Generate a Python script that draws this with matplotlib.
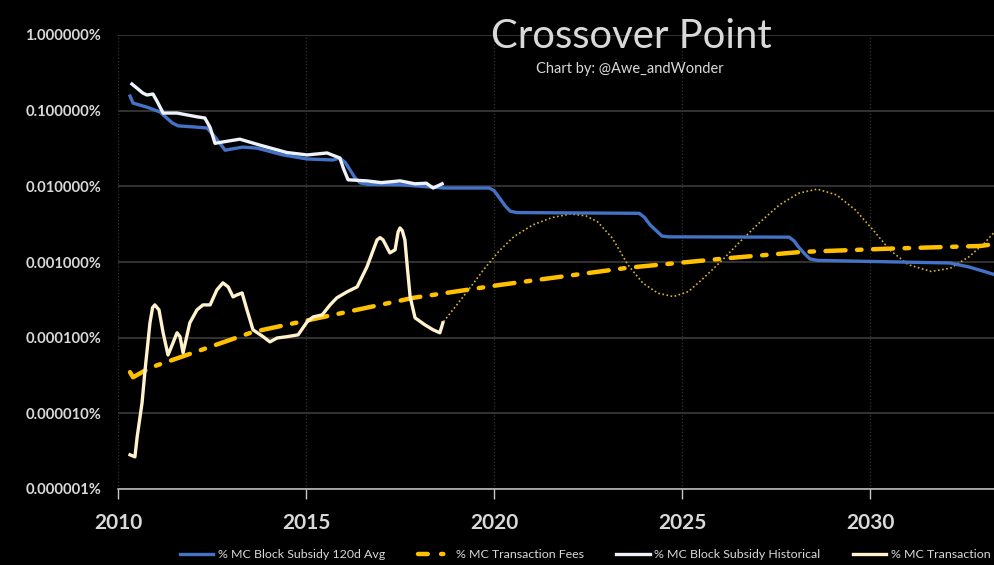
import matplotlib
matplotlib.use("Agg")
import matplotlib.pyplot as plt
from matplotlib.ticker import FixedLocator, FuncFormatter, NullLocator
from matplotlib.lines import Line2D

# ---------------- data (values in percent of market cap) ----------------
subsidy_avg_year = [2010.32, 2010.40, 2010.80, 2011.12, 2011.44, 2011.60, 2012.00, 2012.37,
                    2012.58, 2012.85, 2013.00, 2013.32, 2013.70, 2014.39, 2015.03, 2015.72,
                    2015.90, 2016.05, 2016.17, 2016.30, 2016.44, 2016.65, 2017.50, 2018.67,
                    2019.87, 2020.00, 2020.13, 2020.30, 2020.43, 2020.60, 2023.86, 2024.00,
                    2024.15, 2024.35, 2024.47, 2024.65, 2027.85, 2027.98, 2028.09, 2028.25,
                    2028.40, 2028.60, 2032.13, 2032.63, 2033.00, 2033.32]
subsidy_avg_pct = [0.156, 0.126, 0.110, 0.096, 0.069, 0.063, 0.061, 0.059,
                   0.045, 0.030, 0.031, 0.033, 0.032, 0.026, 0.023, 0.0223,
                   0.0237, 0.0205, 0.0165, 0.0130, 0.0111, 0.0106, 0.0105, 0.0095,
                   0.0095, 0.0088, 0.0072, 0.0055, 0.0047, 0.0045, 0.0044, 0.0039,
                   0.0031, 0.0025, 0.0022, 0.00215, 0.00213, 0.0019, 0.0016, 0.0013,
                   0.0011, 0.00105, 0.00097, 0.00086, 0.00076, 0.00068]

subsidy_hist_year = [2010.37, 2010.55, 2010.66, 2010.77, 2010.93, 2011.05, 2011.20, 2011.57,
                     2012.10, 2012.31, 2012.45, 2012.58, 2012.79, 2013.24, 2013.78, 2014.49,
                     2015.03, 2015.56, 2015.90, 2016.00, 2016.12, 2016.62, 2017.00, 2017.50,
                     2017.90, 2018.20, 2018.38, 2018.62]
subsidy_hist_pct = [0.225, 0.190, 0.171, 0.161, 0.166, 0.130, 0.093, 0.093,
                    0.083, 0.080, 0.060, 0.037, 0.0386, 0.042, 0.035, 0.028,
                    0.026, 0.0276, 0.0237, 0.0170, 0.0122, 0.0118, 0.0112, 0.0118,
                    0.0108, 0.0110, 0.0095, 0.0108]

fees_trend_year = [2010.32, 2010.40, 2010.85, 2013.59, 2017.85, 2020.16, 2023.56, 2026.28,
                   2028.19, 2030.50, 2032.95, 2033.32]
fees_trend_pct = [3.5e-5, 3.0e-5, 4.0e-5, 1.19e-4, 3.36e-4, 4.98e-4, 8.4e-4, 1.13e-3,
                  1.36e-3, 1.50e-3, 1.63e-3, 1.73e-3]

fees_proj_year = [2018.66, 2019.01, 2019.32, 2019.72, 2020.12, 2020.53, 2021.03, 2021.54,
                  2022.04, 2022.45, 2022.75, 2023.15, 2023.56, 2023.96, 2024.36, 2024.77,
                  2025.17, 2025.57, 2026.08, 2026.59, 2027.09, 2027.59, 2028.10, 2028.60,
                  2029.11, 2029.61, 2030.12, 2030.52, 2031.02, 2031.63, 2032.14, 2032.64,
                  2033.04, 2033.32]
fees_proj_pct = [1.63e-4, 2.71e-4, 4.28e-4, 7.87e-4, 1.37e-3, 2.17e-3, 3.09e-3, 3.86e-3,
                 4.32e-3, 4.06e-3, 3.42e-3, 2.06e-3, 9.2e-4, 5.25e-4, 3.87e-4, 3.49e-4,
                 4.06e-4, 6.1e-4, 1.07e-3, 1.96e-3, 3.42e-3, 5.68e-3, 8.1e-3, 9.2e-3,
                 7.7e-3, 4.88e-3, 2.52e-3, 1.45e-3, 9.2e-4, 7.5e-4, 8.3e-4, 1.18e-3,
                 1.77e-3, 2.52e-3]

fees_hist_year = [2010.32, 2010.45, 2010.51, 2010.64, 2010.72, 2010.85, 2010.92, 2010.98,
                  2011.09, 2011.20, 2011.33, 2011.44, 2011.57, 2011.65, 2011.73, 2011.91,
                  2012.10, 2012.26, 2012.45, 2012.63, 2012.79, 2012.93, 2013.06, 2013.16,
                  2013.30, 2013.43, 2013.59, 2013.86, 2014.04, 2014.23, 2014.49, 2014.79,
                  2015.03, 2015.19, 2015.43, 2015.64, 2015.82, 2016.09, 2016.36, 2016.62,
                  2016.89, 2016.97, 2017.05, 2017.23, 2017.37, 2017.45, 2017.50, 2017.56,
                  2017.63, 2017.70, 2017.77, 2017.90, 2018.16, 2018.38, 2018.56, 2018.64]
fees_hist_pct = [2.83e-6, 2.66e-6, 4.9e-6, 1.38e-5, 3.76e-5, 1.57e-4, 2.5e-4, 2.71e-4,
                 2.33e-4, 1.16e-4, 5.9e-5, 8.0e-5, 1.16e-4, 1.03e-4, 6.3e-5, 1.57e-4,
                 2.33e-4, 2.71e-4, 2.71e-4, 4.28e-4, 5.3e-4, 4.69e-4, 3.46e-4, 3.67e-4,
                 3.9e-4, 2.33e-4, 1.27e-4, 1.03e-4, 8.8e-5, 9.9e-5, 1.03e-4, 1.09e-4,
                 1.62e-4, 1.88e-4, 2.0e-4, 2.71e-4, 3.36e-4, 4.03e-4, 4.69e-4, 8.6e-4,
                 1.96e-3, 2.1e-3, 1.96e-3, 1.32e-3, 1.45e-3, 2.5e-3, 2.82e-3, 2.6e-3,
                 1.96e-3, 8.0e-4, 3.46e-4, 1.83e-4, 1.48e-4, 1.27e-4, 1.16e-4, 1.57e-4]

y_ticks = [1e-6, 1e-5, 1e-4, 1e-3, 1e-2, 1e-1, 1.0]
x_ticks = [2010, 2015, 2020, 2025, 2030]

labels = ["% MC Block Subsidy 120d Avg", "% MC Transaction Fees",
          "% MC Block Subsidy Historical", "% MC Transaction Fees Historical"]

# ---------------- styling ----------------
BG = "#000000"
TXT = "#d9d9d9"
C_BLUE = "#4472C4"
C_WHITE = "#EEF2FA"
C_CREAM = "#FFF2CC"
C_GOLD = "#FFC000"
C_DOT = "#D4B13A"

plt.rcParams['font.family'] = ['Lato', 'DejaVu Sans']

fig = plt.figure(figsize=(9.95, 5.65), dpi=100, facecolor=BG)
ax = fig.add_axes([118/995, 1 - 489/565, 1 - 118/995, (489 - 35)/565])
ax.set_facecolor(BG)

ax.set_yscale('log')
ax.set_ylim(1e-6, 1.0)
ax.set_xlim(2010, 2010 + (995 - 118)/37.6)

ax.yaxis.set_major_locator(FixedLocator(y_ticks))
ax.yaxis.set_minor_locator(NullLocator())
ax.yaxis.set_major_formatter(FuncFormatter(lambda v, p: f"{v:.6f}%"))
ax.xaxis.set_major_locator(FixedLocator(x_ticks))
ax.xaxis.set_minor_locator(NullLocator())

ax.grid(axis='y', color='#3a3a3a', linewidth=1.2, linestyle='-')
ax.grid(axis='x', color='#333333', linewidth=0.9, linestyle=':')
ax.set_axisbelow(True)

for s in ['top', 'right', 'left']:
    ax.spines[s].set_visible(False)
ax.spines['bottom'].set_color('#c8c8c8')
ax.spines['bottom'].set_linewidth(1.1)

ax.tick_params(axis='y', length=0, pad=12, labelsize=10.6, labelcolor=TXT)
ax.tick_params(axis='x', length=7, width=1, color='#c8c8c8', pad=10,
               labelsize=15, labelcolor=TXT)
for lab in ax.get_yticklabels() + ax.get_xticklabels():
    lab.set_fontweight('bold')

# ---------------- series ----------------
ax.plot(fees_trend_year, fees_trend_pct, color=C_GOLD, linewidth=3.2,
        dashes=(4.5, 2.6, 1.0, 2.6), solid_capstyle='round', dash_capstyle='round', zorder=3)
ax.plot(fees_proj_year, fees_proj_pct, color=C_DOT, linewidth=1.2,
        linestyle=(0, (1, 1.5)), zorder=3)
ax.plot(subsidy_avg_year, subsidy_avg_pct, color=C_BLUE, linewidth=2.4, zorder=4,
        solid_joinstyle='round')
ax.plot(subsidy_hist_year, subsidy_hist_pct, color=C_WHITE, linewidth=2.4, zorder=5,
        solid_joinstyle='round')
ax.plot(fees_hist_year, fees_hist_pct, color=C_CREAM, linewidth=2.4, zorder=6,
        solid_joinstyle='round')

# ---------------- titles ----------------
fig.text(631/995, 1 - 48/565, "Crossover Point", ha='center', va='baseline',
         color=TXT, fontsize=28.8)
fig.text(630/995, 1 - 73/565, "Chart by: @Awe_andWonder", ha='center', va='baseline',
         color=TXT, fontsize=10.5)

# ---------------- legend ----------------
handles = [
    Line2D([], [], color=C_BLUE, linewidth=2.4),
    Line2D([], [], color=C_GOLD, linewidth=3.2, dashes=(2.2, 3.0, 0.5, 20),
           dash_capstyle='round'),
    Line2D([], [], color=C_WHITE, linewidth=2.4),
    Line2D([], [], color=C_CREAM, linewidth=2.4),
]
leg = fig.legend(handles, labels, loc='center left', bbox_to_anchor=(180/995, 1 - 555/565),
                 ncol=4, frameon=False, fontsize=8.9, handlelength=2.7, handletextpad=0.4,
                 columnspacing=2.6, borderpad=0, borderaxespad=0)
for t in leg.get_texts():
    t.set_color(TXT)

fig.savefig("out.png", dpi=100, facecolor=BG)
